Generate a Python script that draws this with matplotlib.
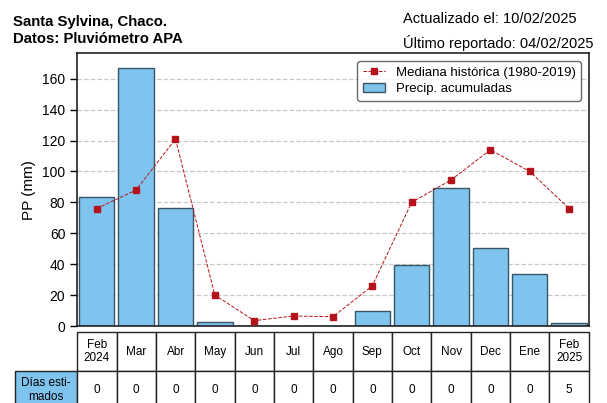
import matplotlib
matplotlib.use('Agg')
import matplotlib.pyplot as plt

plt.rcParams['font.family'] = ['Liberation Sans', 'DejaVu Sans']

meses = ['Feb\n2024', 'Mar', 'Abr', 'May', 'Jun', 'Jul', 'Ago', 'Sep', 'Oct', 'Nov', 'Dec', 'Ene', 'Feb\n2025']
precip = [83.5, 167, 76.5, 2.6, 0, 0, 0, 9.7, 39.5, 89.5, 50.5, 33.5, 2.1]
mediana = [76, 88, 121, 20, 3.5, 6.5, 6, 26, 80, 94.5, 114, 100, 76]
dias_est = [0, 0, 0, 0, 0, 0, 0, 0, 0, 0, 0, 0, 5]

COLOR_BARRA = '#7fc4ef'
COLOR_BORDE = '#3a5566'
COLOR_MEDIANA = '#b5121b'

fig = plt.figure(figsize=(6.07, 4.03), dpi=100)
ax = fig.add_axes([0.127, 0.191, 0.843, 0.677])

x = list(range(len(meses)))
ax.bar(x, precip, width=0.9, color=COLOR_BARRA, edgecolor=COLOR_BORDE, linewidth=1.0,
       label='Precip. acumuladas', zorder=2)
ax.plot(x, mediana, linestyle='--', color=COLOR_MEDIANA, linewidth=0.7, marker='s',
        markersize=5, label='Mediana histórica (1980-2019)', zorder=3)

ax.set_xlim(-0.5, len(meses) - 0.5)
ax.set_ylim(0, 176.5)
ax.set_yticks(range(0, 161, 20))
ax.set_xticks([])
ax.tick_params(axis='y', labelsize=10, length=5, width=1)
ax.set_ylabel('PP (mm)', fontsize=11)
ax.yaxis.grid(True, linestyle='--', color='#c8c8c8', linewidth=0.9, zorder=0)
ax.set_axisbelow(True)
for s in ax.spines.values():
    s.set_linewidth(1.2)
    s.set_color('#222222')

leg = ax.legend(loc='upper right', fontsize=9.5, frameon=True, fancybox=True,
                edgecolor='#444444', handlelength=1.7, borderaxespad=0.6,
                labelspacing=0.35)
leg.get_frame().set_linewidth(1.0)

# tabla de dias estimados
celdas = [[''] + meses, ['Días esti-\nmados'] + [str(d) for d in dias_est]]
anchos = [62] + [39.3] * len(meses)
tabla = ax.table(cellText=celdas, colWidths=anchos, cellLoc='center',
                 bbox=[-0.121, -0.305, 1.121, 0.282])
tabla.auto_set_font_size(False)
tabla.set_fontsize(8.5)
for (r, c), cell in tabla.get_celld().items():
    cell.set_linewidth(1.0)
    cell.set_edgecolor('#222222')
    if r == 0 and c == 0:
        cell.visible_edges = ''
    if r == 1 and c == 0:
        cell.set_facecolor(COLOR_BARRA)

fig.text(0.021, 0.962, 'Santa Sylvina, Chaco.\nDatos: Pluviómetro APA', fontsize=10.7,
         fontweight='bold', ha='left', va='top', linespacing=1.2)
fig.text(0.664, 0.970, 'Actualizado el: 10/02/2025', fontsize=10.5, ha='left', va='top')
fig.text(0.664, 0.912, 'Último reportado: 04/02/2025', fontsize=10.5, ha='left', va='top')

fig.savefig('out.png', dpi=100)
